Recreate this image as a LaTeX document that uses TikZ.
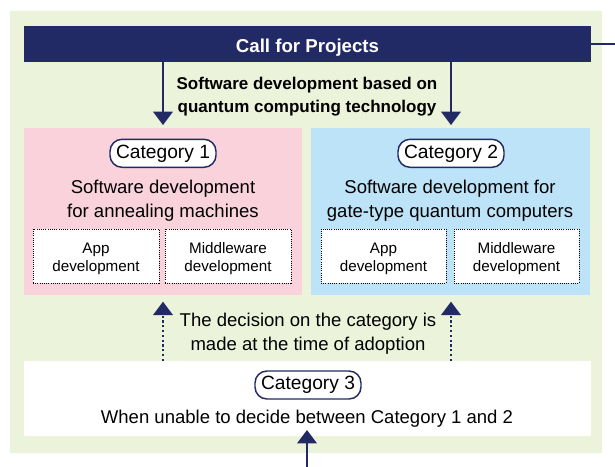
\documentclass[tikz,border=0pt]{standalone}
\usepackage{fontspec}
\setmainfont{Liberation Sans}
\usetikzlibrary{arrows.meta,fit}
\definecolor{navy}{RGB}{34,42,102}
\definecolor{bggreen}{RGB}{235,243,218}
\definecolor{cpink}{RGB}{249,210,219}
\definecolor{cblue}{RGB}{188,227,247}
\tikzset{
  area/.style={inner sep=0pt, outer sep=0pt, draw=none},
  catlabel/.style={draw=navy, line width=1.1pt, fill=white, rounded corners=9pt,
    minimum width=79.5pt, minimum height=21pt, inner sep=0pt,
    font=\fontsize{14.4}{16}\selectfont},
  maintext/.style={align=center, inner sep=0pt, font=\fontsize{13.9}{18}\selectfont},
  smalltext/.style={align=center, inner sep=0pt, font=\fontsize{11.4}{13.5}\selectfont},
  dotbox/.style={area, draw=black, line width=0.65pt, dash pattern=on 0.75pt off 0.9pt, fill=white},
  arr/.style={draw=navy, line width=1.9pt, -{Triangle[width=14.5pt,length=10pt]}},
  dotarr/.style={arr, dash pattern=on 1.6pt off 2pt},
}
\begin{document}
\begin{tikzpicture}[x=0.75pt,y=-0.75pt]
\useasboundingbox (0,0) rectangle (615,467);
% background
\node[area, fill=bggreen, fit={(10,11) (602,453)}] (bg) {};
% call bar
\node[area, fill=navy, fit={(24,26) (591,62)}] (bar) {};
\node[text=white, font=\bfseries\fontsize{14}{16}\selectfont, inner sep=0pt] (calltxt) at (307.5,47.5) {Call for Projects};
\coordinate (rightend) at (615,44);
\draw[navy, line width=1.1pt] (bar.east |- rightend) -- (rightend);
% header text
\node[align=center, inner sep=0pt, font=\bfseries\fontsize{12.75}{17.3}\selectfont] (head) at (307,96.5) {Software development based on\\quantum computing technology};
% category boxes
\node[area, fill=cpink, fit={(24,128) (302,295)}] (pink) {};
\node[area, fill=cblue, fit={(311,128) (589.5,295)}] (blue) {};
\node[area, fill=white, fit={(24,361) (591,436)}] (white) {};
% labels
\node[catlabel] (cat1) at (163,153.3) {\raisebox{-0.9pt}{Category 1}};
\node[catlabel] (cat2) at (451,153.3) {\raisebox{-0.9pt}{Category 2}};
\node[catlabel] (cat3) at (308,385) {\raisebox{-0.9pt}{Category 3}};
% descriptions
\node[maintext] (d1) at (163,201) {Software development\\for annealing machines};
\node[maintext] (d2) at (450,201) {Software development for\\gate-type quantum computers};
% dotted boxes
\node[dotbox, fit={(33,229) (159,283)}] (app1) {};
\node[dotbox, fit={(165,229) (291,283)}] (mid1) {};
\node[dotbox, fit={(321,229) (446,283)}] (app2) {};
\node[dotbox, fit={(454,229) (579,283)}] (mid2) {};
\node[smalltext, yshift=-2pt] at (app1) {App\\development};
\node[smalltext, yshift=-2pt] at (mid1) {Middleware\\development};
\node[smalltext, yshift=-2pt] at (app2) {App\\development};
\node[smalltext, yshift=-2pt] at (mid2) {Middleware\\development};
% arrows from bar
\draw[arr, shorten >=2.2pt] (bar.south -| cat1) -- (pink.north -| cat1);
\draw[arr, shorten >=2.2pt] (bar.south -| cat2) -- (pink.north -| cat2);
% decision text and dotted arrows
\node[maintext] (dec) at (308,334) {The decision on the category is\\made at the time of adoption};
\draw[dotarr, shorten >=5pt] (white.north -| cat1) -- (pink.south -| cat1);
\draw[dotarr, shorten >=5pt] (white.north -| cat2) -- (blue.south -| cat2);
% category 3 text
\node[maintext] (d3) at (307,419) {When unable to decide between Category 1 and 2};
% bottom arrow
\coordinate (bottomin) at (307,467);
\draw[arr, shorten >=-4.5pt] (bottomin) -- (white.south -| bottomin);
\end{tikzpicture}
\end{document}
